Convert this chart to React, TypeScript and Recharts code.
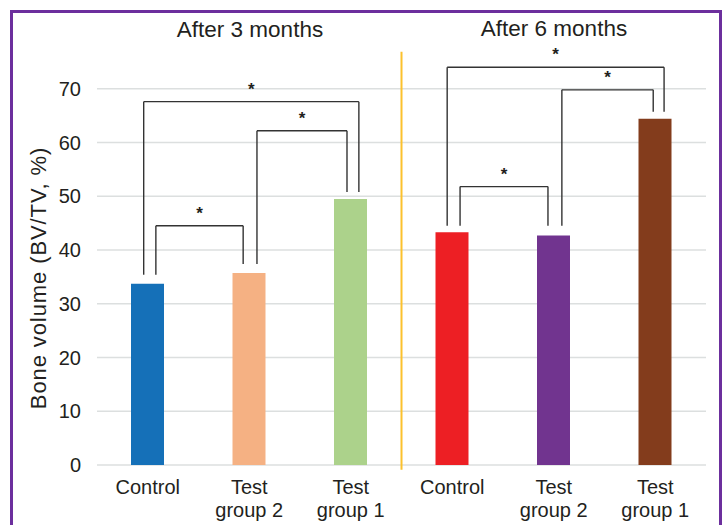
import React from 'react'
import {
    BarChart,
    Bar,
    Cell,
    XAxis,
    YAxis,
    CartesianGrid,
    ReferenceLine,
} from 'recharts'

// bar categories (left block = after 3 months, right block = after 6 months)
const categories = ['Control', 'Test\ngroup 2', 'Test\ngroup 1', 'Control', 'Test\ngroup 2', 'Test\ngroup 1']
const boneVolume = [33.7, 35.7, 49.5, 43.3, 42.7, 64.4]
const barColors = ['#1570b8', '#f5b183', '#acd28b', '#ed1f24', '#71348f', '#833c1c']
const yTicks = [0, 10, 20, 30, 40, 50, 60, 70]
const periods = ['After 3 months', 'After 6 months']

// significance brackets: which bars are compared, bracket top, and leg ends
const bracketPairs = [[0, 2], [1, 2], [0, 1], [3, 5], [4, 5], [3, 4]]
const bracketTops = [67.6, 62.2, 44.5, 74.0, 69.8, 51.8]
const bracketLegEnds = [[35.4, 50.8], [37.4, 50.8], [35.4, 37.4], [44.5, 65.7], [44.5, 65.7], [44.5, 44.5]]
const bracketMarks = ['*', '*', '*', '*', '*', '*']
// small horizontal nudges of the legs so they don't sit on the bar centre
const legNudge = [[-0.04, 0.08], [0.076, -0.037], [0.08, -0.06], [-0.05, 0.087], [0.08, -0.02], [0.077, -0.057]]

const data = boneVolume.map((v, i) => ({ pos: i, value: v, name: categories[i] }))

const FONT = '"Liberation Sans", Arial, Helvetica, sans-serif'
const TEXT = '#231f20'
const LINE = '#333333'

const CategoryTick = (props: any) => {
    const { x, y, payload } = props
    const lines = categories[payload.value].split('\n')
    return (
        <text x={x} y={y} textAnchor="middle" fill={TEXT} fontSize={20} fontFamily={FONT}>
            {lines.map((l, i) => (
                <tspan key={i} x={x} dy={i === 0 ? 21 : 23}>{l}</tspan>
            ))}
        </text>
    )
}

const StarLabel = (props: any) => {
    const { viewBox, value } = props
    const cx = viewBox.x + viewBox.width / 2
    return (
        <text x={cx} y={viewBox.y - 7} textAnchor="middle" fill={TEXT} fontSize={17} fontWeight="bold" fontFamily={FONT}>
            {value}
        </text>
    )
}

const YTitle = () => {
    const cx = 38
    const cy = 278
    return (
        <text x={cx} y={cy} transform={`rotate(-90, ${cx}, ${cy})`} textAnchor="middle" dominantBaseline="central"
            fill={TEXT} fontSize={22} letterSpacing={0.9} fontFamily={FONT}>
            Bone volume (BV/TV, %)
        </text>
    )
}

export default function App() {
    return (
        <div style={{ position: 'absolute', left: 0, top: 0, width: 725, height: 525, background: '#fff', overflow: 'hidden', fontFamily: FONT }}>
            <div style={{ position: 'absolute', left: 10, top: 10, width: 706, height: 530, border: '3px solid #6c2f9d' }} />
            <div style={{ position: 'absolute', left: 150, width: 200, top: 16, textAlign: 'center', fontSize: 22.5, color: TEXT, lineHeight: '28px' }}>{periods[0]}</div>
            <div style={{ position: 'absolute', left: 454, width: 200, top: 15, textAlign: 'center', fontSize: 22.5, color: TEXT, lineHeight: '28px' }}>{periods[1]}</div>
            <BarChart width={725} height={525} data={data} margin={{ top: 35, right: 19, left: 0, bottom: 10 }}
                style={{ position: 'absolute', left: 0, top: 0 }}>
                <CartesianGrid vertical={false} stroke="#dcdfdf" strokeWidth={1.5} horizontalValues={yTicks} />
                <XAxis
                    dataKey="pos"
                    type="number"
                    domain={[-0.5, 5.5]}
                    ticks={[0, 1, 2, 3, 4, 5]}
                    tick={<CategoryTick />}
                    tickLine={false}
                    axisLine={false}
                    height={50}
                    interval={0}
                />
                <YAxis
                    domain={[0, 80]}
                    ticks={yTicks}
                    tick={{ fill: TEXT, fontSize: 20, fontFamily: FONT }}
                    tickLine={false}
                    axisLine={false}
                    tickMargin={10}
                    width={97}
                    label={<YTitle />}
                />
                <Bar dataKey="value" barSize={33} isAnimationActive={false}>
                    {data.map((d, i) => (
                        <Cell key={i} fill={barColors[i]} />
                    ))}
                </Bar>

                {/* separator between the two periods */}
                <ReferenceLine
                    segment={[{ x: 2.5, y: -0.9 }, { x: 2.5, y: 76.9 }]}
                    stroke="#fcc12d"
                    strokeWidth={2}
                    ifOverflow="visible"
                />

                {bracketPairs.map(([a, b], i) => {
                    const xa = a + legNudge[i][0]
                    const xb = b + legNudge[i][1]
                    const top = bracketTops[i]
                    return (
                        <React.Fragment key={i}>
                            <ReferenceLine segment={[{ x: xa, y: bracketLegEnds[i][0] }, { x: xa, y: top }]}
                                stroke={LINE} strokeWidth={1.4} ifOverflow="visible" />
                            <ReferenceLine segment={[{ x: xb, y: bracketLegEnds[i][1] }, { x: xb, y: top }]}
                                stroke={LINE} strokeWidth={1.4} ifOverflow="visible" />
                            <ReferenceLine segment={[{ x: xa, y: top }, { x: xb, y: top }]}
                                stroke={LINE} strokeWidth={1.4} ifOverflow="visible"
                                label={<StarLabel value={bracketMarks[i]} />} />
                        </React.Fragment>
                    )
                })}
            </BarChart>
        </div>
    )
}
